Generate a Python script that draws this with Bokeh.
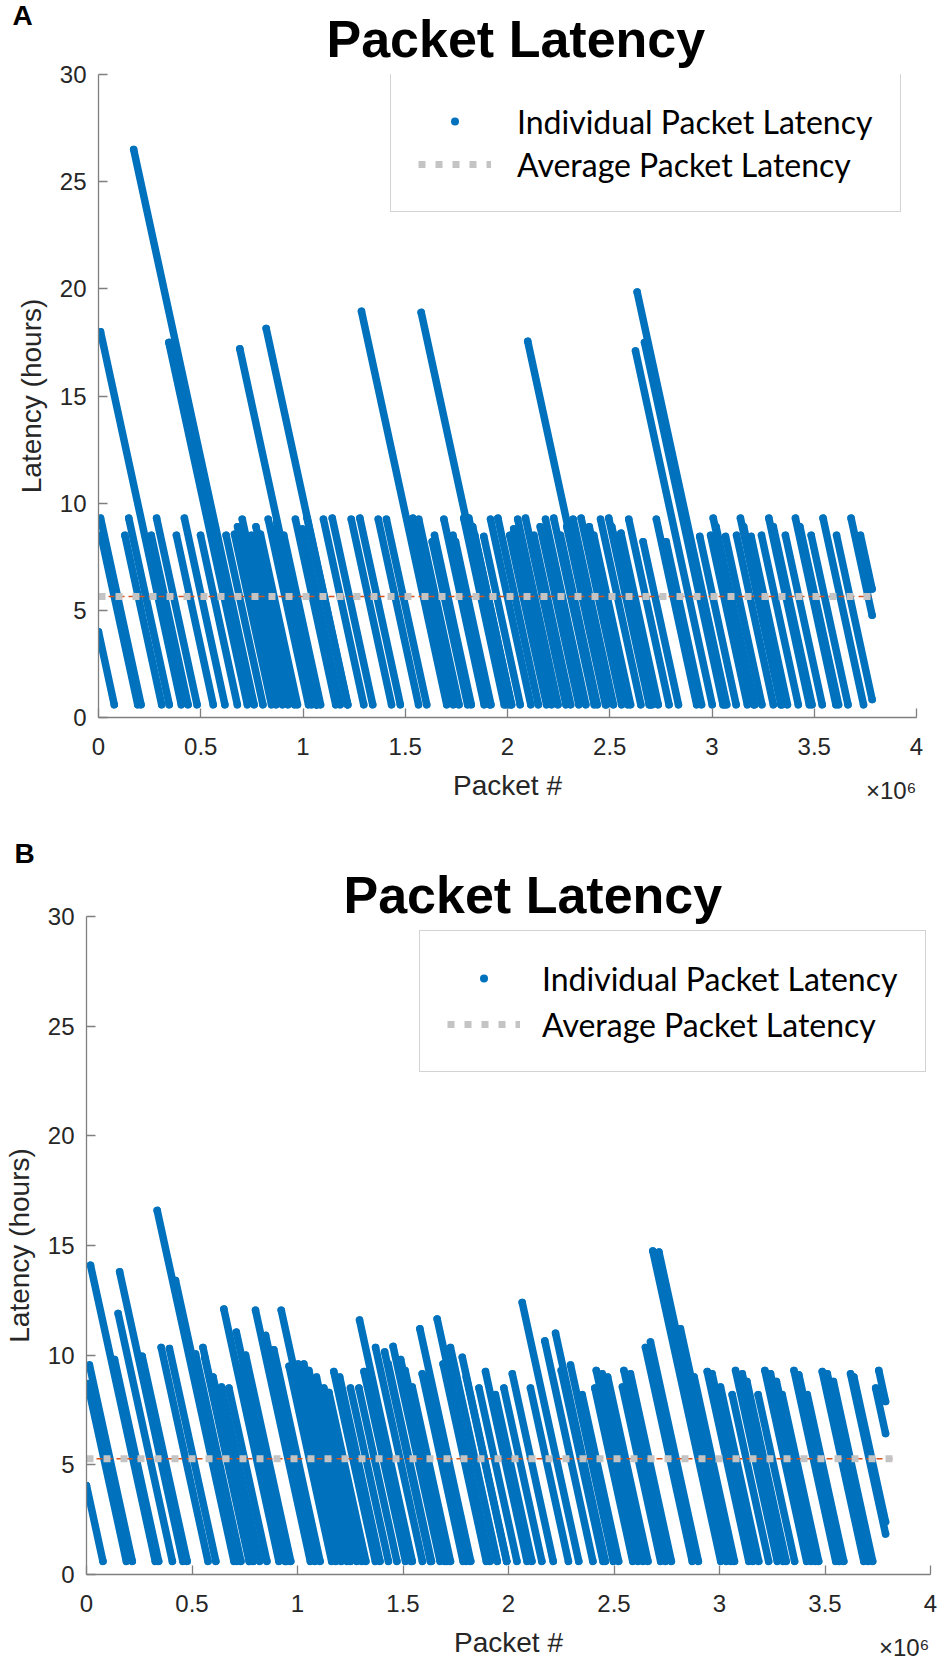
from bokeh.plotting import figure
from bokeh.models import Range1d, FixedTicker, Legend, LegendItem, Title
from bokeh.layouts import column
from bokeh.embed import file_html
from bokeh.resources import INLINE

# ---------------- shared axis data ----------------
x_ticks = [0, 0.5, 1, 1.5, 2, 2.5, 3, 3.5, 4]
x_tick_labels = ["0", "0.5", "1", "1.5", "2", "2.5", "3", "3.5", "4"]
y_ticks = [0, 5, 10, 15, 20, 25, 30]
x_scale_text = "\u00d710\u2076"

# ---------------- panel A (packet # in millions, latency in hours) ----------------
a_x_start = [0.000, 0.010, 0.012, 0.010, 0.129, 0.148, 0.172, 0.258, 0.284, 0.344,
             0.381, 0.420, 0.499, 0.624, 0.665, 0.691, 0.703, 0.747, 0.792, 0.820,
             0.830, 0.857, 0.887, 0.906, 0.963, 0.996, 1.020, 1.100, 1.143, 1.236,
             1.278, 1.286, 1.368, 1.408, 1.537, 1.566, 1.578, 1.632, 1.643, 1.689,
             1.733, 1.746, 1.786, 1.811, 1.840, 1.884, 1.917, 1.953, 2.011, 2.050,
             2.088, 2.099, 2.129, 2.186, 2.226, 2.259, 2.321, 2.360, 2.422, 2.455,
             2.495, 2.528, 2.593, 2.626, 2.634, 2.663, 2.670, 2.682, 2.728, 2.776,
             2.940, 2.993, 3.006, 3.066, 3.120, 3.139, 3.191, 3.242, 3.278, 3.359,
             3.408, 3.485, 3.543, 3.609, 3.680, 3.726,
             0.680, 0.770, 0.872, 1.830, 2.030, 2.160, 2.290, 2.400, 2.510, 2.555,
             3.020, 3.155, 3.300, 3.430]
a_y_start = [4.0, 9.3, 8.5, 18.0, 8.5, 9.3, 26.5, 8.5, 9.3, 17.5,
             8.5, 9.3, 8.5, 8.5, 8.55, 17.2, 9.25, 8.5, 8.55, 18.15,
             9.25, 8.8, 8.55, 8.5, 9.25, 8.8, 9.3, 9.25, 9.3, 9.25,
             9.3, 18.95, 9.25, 9.25, 9.3, 9.25, 18.9, 8.2, 8.5, 9.25,
             8.5, 8.2, 9.3, 9.3, 8.5, 8.45, 9.25, 9.3, 8.5, 9.25,
             9.3, 17.55, 8.5, 9.25, 9.3, 8.5, 9.25, 9.3, 8.5, 9.25,
             9.3, 8.5, 9.25, 17.1, 19.85, 8.2, 17.5, 17.3, 9.25, 8.2,
             8.45, 8.5, 9.3, 8.45, 8.5, 9.3, 8.45, 8.5, 9.3, 8.5,
             9.3, 8.5, 9.3, 8.5, 9.3, 8.5,
             8.9, 8.9, 9.1, 8.9, 8.8, 8.9, 8.9, 8.9, 8.9, 8.6,
             8.9, 8.9, 8.9, 8.9]
a_x_end = [0.077, 0.208, 0.192, 0.405, 0.309, 0.346, 0.761, 0.438, 0.482, 0.728,
           0.561, 0.618, 0.679, 0.804, 0.846, 1.068, 0.900, 0.927, 0.973, 1.219,
           1.027, 1.043, 1.068, 1.086, 1.160, 1.182, 1.218, 1.297, 1.341, 1.433,
           1.476, 1.703, 1.565, 1.605, 1.735, 1.763, 1.994, 1.805, 1.823, 1.886,
           1.913, 1.919, 1.984, 2.009, 2.020, 2.062, 2.114, 2.151, 2.191, 2.247,
           2.286, 2.484, 2.309, 2.383, 2.424, 2.439, 2.518, 2.558, 2.602, 2.652,
           2.693, 2.708, 2.790, 3.001, 3.072, 2.836, 3.054, 3.062, 2.925, 2.949,
           3.118, 3.173, 3.204, 3.244, 3.300, 3.337, 3.369, 3.422, 3.476, 3.539,
           3.606, 3.665, 3.741, 3.783, 3.783, 3.783,
           0.869, 0.959, 1.065, 2.019, 2.216, 2.349, 2.479, 2.589, 2.699, 2.737,
           3.209, 3.344, 3.489, 3.619]
a_y_end = [0.6] * 80 + [0.6, 0.6, 0.6, 0.84, 4.77, 5.99] + [0.6] * 14
a_avg_x = [0.0, 3.78]
a_avg_y = [5.65, 5.65]

# ---------------- panel B ----------------
b_x_start = [0.000, 0.014, 0.005, 0.019, 0.133, 0.150, 0.157, 0.264, 0.335, 0.354,
             0.393, 0.422, 0.517, 0.552, 0.640, 0.651, 0.675, 0.710, 0.754, 0.801,
             0.849, 0.888, 0.923, 1.003, 1.030, 1.054, 1.125, 1.149, 1.172, 1.251,
             1.291, 1.294, 1.315, 1.370, 1.413, 1.453, 1.489, 1.544, 1.580, 1.591,
             1.662, 1.725, 1.781, 1.860, 1.891, 1.938, 1.978, 2.018, 2.065, 2.104,
             2.172, 2.223, 2.294, 2.349, 2.409, 2.416, 2.444, 2.540, 2.547, 2.578,
             2.649, 2.673, 2.684, 2.713, 2.815, 2.942, 2.965, 3.005, 3.060, 3.076,
             3.108, 3.183, 3.215, 3.242, 3.297, 3.353, 3.376, 3.416, 3.487, 3.511,
             3.621, 3.637, 3.740, 3.755,
             0.560, 0.600, 0.740, 0.960, 1.090, 1.200, 1.340, 1.430, 1.510, 1.610,
             1.690, 1.800, 2.250, 2.470, 2.880, 3.130, 3.270, 3.540]
b_y_start = [4.05, 9.55, 8.7, 14.1, 9.8, 11.9, 13.8, 9.95, 16.6, 10.35,
             10.3, 13.4, 10.05, 10.35, 8.55, 12.1, 8.5, 11.05, 10.0, 12.05,
             10.9, 10.25, 12.05, 9.6, 9.6, 9.3, 8.5, 8.3, 9.25, 8.5,
             8.5, 11.6, 9.25, 10.35, 10.15, 10.4, 9.8, 8.55, 11.2, 9.15,
             11.65, 10.35, 9.9, 8.5, 9.25, 8.2, 8.5, 9.15, 12.4, 8.5,
             10.65, 11.0, 9.55, 8.2, 8.5, 9.3, 9.15, 8.55, 9.3, 9.15,
             10.35, 10.6, 14.75, 14.7, 11.2, 9.25, 9.15, 8.55, 8.2, 9.3,
             9.15, 8.2, 9.3, 9.15, 8.2, 9.3, 9.1, 8.2, 9.25, 9.15,
             9.15, 9.0, 8.5, 9.3,
             9.9, 9.0, 9.5, 9.5, 9.0, 9.0, 9.3, 9.6, 9.3, 9.0,
             9.6, 9.0, 9.3, 9.0, 9.0, 8.8, 8.8, 8.8]
b_x_end = [0.078, 0.217, 0.189, 0.326, 0.342, 0.407, 0.457, 0.477, 0.699, 0.576,
           0.613, 0.713, 0.732, 0.774, 0.821, 0.912, 0.855, 0.948, 0.968, 1.061,
           1.083, 1.107, 1.183, 1.208, 1.235, 1.252, 1.305, 1.324, 1.369, 1.431,
           1.471, 1.544, 1.512, 1.592, 1.630, 1.676, 1.698, 1.725, 1.821, 1.785,
           1.913, 1.947, 1.992, 2.040, 2.088, 2.111, 2.158, 2.212, 2.333, 2.284,
           2.400, 2.459, 2.497, 2.522, 2.589, 2.614, 2.638, 2.721, 2.745, 2.772,
           2.871, 2.900, 3.006, 3.033, 3.056, 3.139, 3.159, 3.186, 3.233, 3.274,
           3.302, 3.356, 3.413, 3.436, 3.470, 3.551, 3.569, 3.589, 3.684, 3.705,
           3.787, 3.787, 3.787, 3.787,
           0.771, 0.791, 0.942, 1.162, 1.281, 1.391, 1.538, 1.635, 1.708, 1.801,
           1.895, 1.991, 2.448, 2.661, 3.071, 3.316, 3.456, 3.726]
b_y_end = [0.6] * 80 + [1.85, 2.4, 6.43, 7.89] + [0.6] * 18
b_avg_x = [0.0, 3.83]
b_avg_y = [5.28, 5.28]

BLUE = "#0072BD"
ORANGE = "#D95319"
GREY = "#c4c4c4"
AX = "#7f7f7f"
TXT = "#262626"
FONT = "Liberation Sans"


def make_panel(xs, ys, xe, ye, avg_x, avg_y, letter, cfg):
    p = figure(frame_width=cfg["fw"], frame_height=cfg["fh"],
               min_border_left=cfg["bl"], min_border_right=cfg["br"],
               min_border_top=cfg["bt"], min_border_bottom=cfg["bb"],
               x_range=Range1d(0, 4), y_range=Range1d(0, 30),
               output_backend="svg", toolbar_location=None)
    try:
        p.frame_align = False
    except Exception:
        pass
    p.outline_line_color = None
    p.grid.visible = False
    p.background_fill_color = "white"
    p.border_fill_color = "white"

    p.segment(x0=xs, y0=ys, x1=xe, y1=ye, line_color=BLUE,
              line_width=cfg["lw"], line_cap="round")
    pts = p.scatter(x=xs + xe, y=ys + ye, size=cfg["lw"], marker="circle",
                    fill_color=BLUE, line_color=None)
    p.line(avg_x, avg_y, line_color=ORANGE, line_width=1.5, line_dash="6 4")
    avg = p.line(avg_x, avg_y, line_color=GREY, line_width=7, line_dash="7 10")

    for ax in (p.xaxis[0], p.yaxis[0]):
        ax.axis_line_color = AX
        ax.axis_line_width = 1.3
        ax.major_tick_line_color = AX
        ax.major_tick_line_width = 1.3
        ax.major_tick_in = 9
        ax.major_tick_out = 0
        ax.minor_tick_line_color = None
        ax.major_label_text_font = FONT
        ax.major_label_text_font_size = "24px"
        ax.major_label_text_color = TXT
        ax.axis_label_text_font = FONT
        ax.axis_label_text_font_size = "28px"
        ax.axis_label_text_font_style = "normal"
        ax.axis_label_text_color = TXT

    p.xaxis.ticker = FixedTicker(ticks=x_ticks)
    p.xaxis.major_label_overrides = dict(zip(x_ticks, x_tick_labels))
    p.xaxis.axis_label = "Packet #"
    p.xaxis.major_label_standoff = 20
    p.xaxis.axis_label_standoff = 12
    p.yaxis.ticker = FixedTicker(ticks=y_ticks)
    p.yaxis.axis_label = "Latency (hours)"
    p.yaxis.major_label_standoff = 12
    p.yaxis.axis_label_standoff = 10

    # "x10^6" multiplier, at the right end of the x-axis label row
    p.add_layout(Title(text=x_scale_text, align="right", offset=cfg["exp_off"],
                       standoff=-54, vertical_align="top",
                       text_font=FONT, text_font_size="24px", text_font_style="normal",
                       text_color=TXT), "below")

    legend = Legend(items=[LegendItem(label="Individual Packet Latency", renderers=[pts]),
                           LegendItem(label="Average Packet Latency", renderers=[avg])],
                    location=cfg["leg_loc"], glyph_width=73, glyph_height=20,
                    label_standoff=cfg["leg_so"], padding=27, spacing=cfg["leg_sp"],
                    label_height=40, label_width=cfg["leg_lw"],
                    label_text_font="Lato", label_text_font_size="32px",
                    label_text_color="#000000",
                    border_line_color="#a8a8a8", border_line_width=1.2,
                    background_fill_color="white", background_fill_alpha=1.0)
    p.add_layout(legend)

    # titles above the frame: main title nearest the frame, panel letter outside it
    p.add_layout(Title(text="Packet Latency", align="left", offset=cfg["title_off"],
                       standoff=cfg["title_so"], vertical_align="bottom",
                       text_font=FONT, text_font_size="52px", text_font_style="bold",
                       text_color="#000000"), "above")
    p.add_layout(Title(text=letter, align="left", offset=cfg["letter_off"],
                       standoff=cfg["letter_so"], vertical_align="bottom",
                       text_font=FONT, text_font_size="28px", text_font_style="bold",
                       text_color="#000000"), "above")
    return p


cfg_a = dict(fw=818, fh=643, bl=98, br=24, bt=74, bb=116, lw=7.5,
             leg_loc=(292, 505), leg_sp=3, leg_lw=356, leg_so=26,
             title_off=228, title_so=13, letter_off=-86, letter_so=-58,
             exp_off=0)
cfg_b = dict(fw=844, fh=658, bl=84, br=12, bt=83, bb=86, lw=7.5,
             leg_loc=(333, 502), leg_sp=6, leg_lw=354, leg_so=22,
             title_off=257, title_so=-14, letter_off=-72, letter_so=3,
             exp_off=1)

pa = make_panel(a_x_start, a_y_start, a_x_end, a_y_end, a_avg_x, a_avg_y, "A", cfg_a)
pb = make_panel(b_x_start, b_y_start, b_x_end, b_y_end, b_avg_x, b_avg_y, "B", cfg_b)

layout = column(pa, pb, spacing=0)
open("out.html", "w").write(file_html(layout, INLINE))
